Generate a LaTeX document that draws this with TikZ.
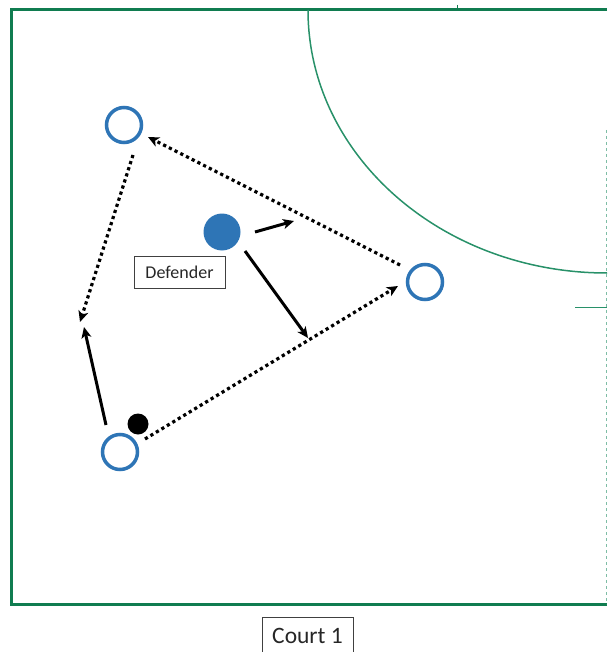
\documentclass[tikz,border=0pt]{standalone}
\usepackage{fontspec}
\setmainfont{Carlito}
\usetikzlibrary{arrows.meta}
\definecolor{court}{RGB}{16,124,80}
\definecolor{courtthin}{RGB}{40,145,105}
\definecolor{player}{RGB}{46,117,182}
\begin{document}
\begin{tikzpicture}[x=1pt,y=-1pt,
  player/.style={circle,draw=player,line width=3.5pt,minimum size=35pt,inner sep=0pt},
  defender/.style={circle,fill=player,minimum size=37pt,inner sep=0pt},
  ball/.style={circle,fill=black,minimum size=21pt,inner sep=0pt},
  labelbox/.style={draw=black!75,line width=0.8pt,inner sep=0pt,text=black!85},
  pass/.style={line width=3.2pt,dash pattern=on 3.2pt off 3.2pt,-{Stealth[length=11pt,width=10pt,inset=3pt]}},
  run/.style={line width=3pt,-{Stealth[length=11pt,width=10pt,inset=3pt]}}]
\useasboundingbox (0,0) rectangle (607,652);
% court
\draw[court,line width=3pt] (607,10) -- (11.5,10) -- (11.5,604) -- (607,604);
\draw[court,line width=1pt] (457,5) -- (457,10);
\draw[courtthin,line width=1.5pt] (308,10) arc[start angle=180,end angle=90,x radius=299,y radius=263];
\draw[courtthin!60,line width=1pt,dashed] (606,130) -- (606,604);
\draw[courtthin,line width=1pt] (575,307) -- (607,307);
% players
\node[player] (p1) at (124,125) {};
\node[player] (p2) at (425,282) {};
\node[player] (p3) at (120,452) {};
\node[defender] (d) at (222,232) {};
\node[ball] (b) at (138,424) {};
\node[labelbox,minimum width=91pt,minimum height=32pt,font=\fontsize{18}{20}\selectfont] (dl) at (179.5,272) {Defender};
\node[labelbox,minimum width=91pt,minimum height=38pt,font=\fontsize{23.5}{26}\selectfont,anchor=north] (cl) at (307.5,617) {Court 1};
% arrow coordinates
\coordinate (a1s) at (400,265); \coordinate (a1e) at (148,137);
\coordinate (a2s) at (133,155); \coordinate (a2e) at (80,322);
\coordinate (a3s) at (145,439); \coordinate (a3e) at (398,286);
\coordinate (a4s) at (106,425); \coordinate (a4e) at (84,327);
\coordinate (a5s) at (255,232); \coordinate (a5e) at (294,221);
\coordinate (a6s) at (245,251); \coordinate (a6e) at (308,338);
\draw[pass] (a1s) -- (a1e);
\draw[pass] (a2s) -- (a2e);
\draw[pass] (a3s) -- (a3e);
\draw[run] (a4s) -- (a4e);
\draw[run] (a5s) -- (a5e);
\draw[run] (a6s) -- (a6e);
\end{tikzpicture}
\end{document}
